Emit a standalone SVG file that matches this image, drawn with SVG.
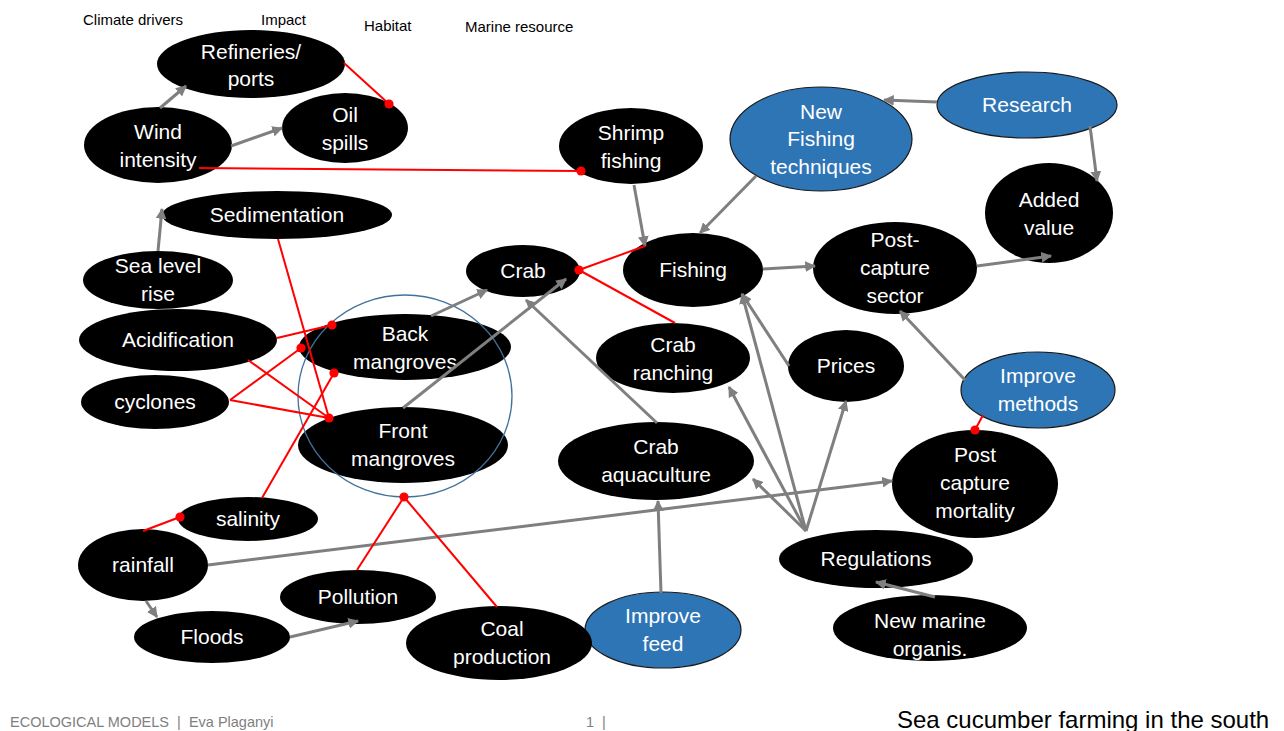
<svg xmlns="http://www.w3.org/2000/svg" width="1284" height="731" viewBox="0 0 1284 731">
<defs>
<style>
.blk{fill:#000}
.blu{fill:#2E75B6;stroke:#1a1a1a;stroke-width:1.2}
.t{font-family:"Liberation Sans",Arial,sans-serif;font-size:21px;fill:#fff;text-anchor:middle}
.hd{font-family:"Liberation Sans",Arial,sans-serif;font-size:15px;fill:#000}
.ft{font-family:"Liberation Sans",Arial,sans-serif;font-size:14.5px;fill:#7f7f7f;white-space:pre}
.g{stroke:#7f7f7f;stroke-width:3;fill:none;marker-end:url(#arr)}
.r{stroke:#ff0000;stroke-width:2;fill:none}
.rd{marker-end:url(#dot)}
</style>
<marker id="arr" viewBox="0 0 10 10" refX="9" refY="5" markerWidth="3.6" markerHeight="3.6" orient="auto">
<path d="M0,0 L10,5 L0,10 z" fill="#7f7f7f"/>
</marker>
<marker id="dot" viewBox="-5 -5 10 10" refX="0" refY="0" markerWidth="10" markerHeight="10" markerUnits="userSpaceOnUse">
<circle r="4.6" fill="#ff0000"/>
</marker>
</defs>
<rect width="1284" height="731" fill="#fff"/>
<g id="headers">
<text class="hd" x="83" y="25">Climate drivers</text>
<text class="hd" x="261" y="25">Impact</text>
<text class="hd" x="364" y="31">Habitat</text>
<text class="hd" x="465" y="32">Marine resource</text>
</g>
<g id="nodes">
<g id="refineries"><ellipse class="blk" cx="251" cy="64" rx="94" ry="34"/><text class="t" x="251"><tspan x="251" y="59">Refineries/</tspan><tspan x="251" y="86">ports</tspan></text></g>
<g id="wind"><ellipse class="blk" cx="158" cy="145" rx="74" ry="38"/><text class="t"><tspan x="158" y="139">Wind</tspan><tspan x="158" y="167">intensity</tspan></text></g>
<g id="oil"><ellipse class="blk" cx="345" cy="128" rx="63" ry="35"/><text class="t"><tspan x="345" y="122">Oil</tspan><tspan x="345" y="150">spills</tspan></text></g>
<g id="shrimp"><ellipse class="blk" cx="631" cy="146" rx="72" ry="38"/><text class="t"><tspan x="631" y="140">Shrimp</tspan><tspan x="631" y="168">fishing</tspan></text></g>
<g id="newfishing"><ellipse class="blu" cx="821" cy="139" rx="91" ry="52"/><text class="t"><tspan x="821" y="119">New</tspan><tspan x="821" y="146">Fishing</tspan><tspan x="821" y="174">techniques</tspan></text></g>
<g id="research"><ellipse class="blu" cx="1027" cy="105" rx="90" ry="33"/><text class="t" x="1027" y="112">Research</text></g>
<g id="added"><ellipse class="blk" cx="1049" cy="213" rx="64" ry="50"/><text class="t"><tspan x="1049" y="207">Added</tspan><tspan x="1049" y="235">value</tspan></text></g>
<g id="sedimentation"><ellipse class="blk" cx="277" cy="215" rx="115" ry="24"/><text class="t" x="277" y="222">Sedimentation</text></g>
<g id="sealevel"><ellipse class="blk" cx="158" cy="280" rx="75" ry="29"/><text class="t"><tspan x="158" y="273">Sea level</tspan><tspan x="158" y="301">rise</tspan></text></g>
<g id="crab"><ellipse class="blk" cx="523" cy="271" rx="57" ry="26"/><text class="t" x="523" y="278">Crab</text></g>
<g id="fishing"><ellipse class="blk" cx="693" cy="270" rx="70" ry="37"/><text class="t" x="693" y="277">Fishing</text></g>
<g id="postcapture"><ellipse class="blk" cx="895" cy="268" rx="82" ry="46"/><text class="t"><tspan x="895" y="247">Post-</tspan><tspan x="895" y="275">capture</tspan><tspan x="895" y="303">sector</tspan></text></g>
<g id="acidification"><ellipse class="blk" cx="178" cy="340" rx="99" ry="31"/><text class="t" x="178" y="347">Acidification</text></g>
<g id="backmangroves"><ellipse class="blk" cx="405" cy="347" rx="106" ry="33"/><text class="t"><tspan x="405" y="341">Back</tspan><tspan x="405" y="369">mangroves</tspan></text></g>
<g id="crabranching"><ellipse class="blk" cx="673" cy="358" rx="77" ry="35"/><text class="t"><tspan x="673" y="352">Crab</tspan><tspan x="673" y="380">ranching</tspan></text></g>
<g id="prices"><ellipse class="blk" cx="846" cy="366" rx="58" ry="36"/><text class="t" x="846" y="373">Prices</text></g>
<g id="cyclones"><ellipse class="blk" cx="155" cy="402" rx="74" ry="27"/><text class="t" x="155" y="409">cyclones</text></g>
<g id="frontmangroves"><ellipse class="blk" cx="403" cy="445" rx="105" ry="38"/><text class="t"><tspan x="403" y="438">Front</tspan><tspan x="403" y="466">mangroves</tspan></text></g>
<g id="crabaquaculture"><ellipse class="blk" cx="656" cy="461" rx="98" ry="39"/><text class="t"><tspan x="656" y="454">Crab</tspan><tspan x="656" y="482">aquaculture</tspan></text></g>
<g id="improvemethods"><ellipse class="blu" cx="1038" cy="390" rx="77" ry="38"/><text class="t"><tspan x="1038" y="383">Improve</tspan><tspan x="1038" y="411">methods</tspan></text></g>
<g id="pcmortality"><ellipse class="blk" cx="975" cy="484" rx="83" ry="54"/><text class="t"><tspan x="975" y="462">Post</tspan><tspan x="975" y="490">capture</tspan><tspan x="975" y="518">mortality</tspan></text></g>
<g id="salinity"><ellipse class="blk" cx="248" cy="519" rx="70" ry="22"/><text class="t" x="248" y="526">salinity</text></g>
<g id="rainfall"><ellipse class="blk" cx="143" cy="565" rx="65" ry="36"/><text class="t" x="143" y="572">rainfall</text></g>
<g id="regulations"><ellipse class="blk" cx="876" cy="559" rx="97" ry="29"/><text class="t" x="876" y="566">Regulations</text></g>
<g id="pollution"><ellipse class="blk" cx="358" cy="597" rx="78" ry="27"/><text class="t" x="358" y="604">Pollution</text></g>
<g id="floods"><ellipse class="blk" cx="212" cy="637" rx="78" ry="26"/><text class="t" x="212" y="644">Floods</text></g>
<g id="improvefeed"><ellipse class="blu" cx="663" cy="630" rx="78" ry="38"/><text class="t"><tspan x="663" y="623">Improve</tspan><tspan x="663" y="651">feed</tspan></text></g>
<g id="coal"><ellipse class="blk" cx="499" cy="643" rx="93" ry="37"/><text class="t"><tspan x="502" y="636">Coal</tspan><tspan x="502" y="664">production</tspan></text></g>
<g id="newmarine"><ellipse class="blk" cx="930" cy="628" rx="97" ry="33"/><text class="t"><tspan x="930" y="628">New marine</tspan><tspan x="930" y="656">organis.</tspan></text></g>
</g>
<g id="mangrove-group"><ellipse cx="405" cy="396" rx="107" ry="101" fill="none" stroke="#41719C" stroke-width="1.3"/></g>
<g id="connectors">
<line class="g" x1="160" y1="108" x2="186" y2="86"/>
<line class="g" x1="231" y1="146" x2="282" y2="128"/>
<line class="g" x1="937" y1="102" x2="884" y2="100"/>
<line class="g" x1="1090" y1="126" x2="1097" y2="181"/>
<line class="g" x1="634" y1="185" x2="645" y2="246"/>
<line class="g" x1="756" y1="176" x2="700" y2="233"/>
<line class="g" x1="763" y1="269" x2="815" y2="266"/>
<line class="g" x1="977" y1="266" x2="1051" y2="256"/>
<line class="g" x1="158" y1="251" x2="162" y2="209"/>
<line class="g" x1="431" y1="316" x2="487" y2="290"/>
<line class="g" x1="403" y1="408" x2="566" y2="279"/>
<line class="g" x1="657" y1="423" x2="526" y2="300"/>
<line class="g" x1="789" y1="366" x2="742" y2="294"/>
<line class="g" x1="806" y1="531" x2="742" y2="294"/>
<line class="g" x1="806" y1="531" x2="729" y2="387"/>
<line class="g" x1="806" y1="531" x2="753" y2="479"/>
<line class="g" x1="806" y1="531" x2="846" y2="401"/>
<line class="g" x1="965" y1="380" x2="900" y2="311"/>
<line class="g" x1="208" y1="565" x2="892" y2="481"/>
<line class="g" x1="661" y1="593" x2="658" y2="501"/>
<line class="g" x1="146" y1="601" x2="157" y2="617"/>
<line class="g" x1="290" y1="637" x2="358" y2="621"/>
<line class="g" x1="935" y1="597" x2="876" y2="582"/>
<line class="r rd" x1="344" y1="63" x2="389" y2="104"/>
<line class="r rd" x1="199" y1="168" x2="581" y2="171"/>
<line class="r rd" x1="645" y1="246" x2="579" y2="270"/>
<line class="r" x1="675" y1="323" x2="579" y2="270"/>
<line class="r rd" x1="278" y1="239" x2="329" y2="418"/>
<line class="r rd" x1="277" y1="338" x2="332" y2="325"/>
<line class="r" x1="248" y1="360" x2="329" y2="418"/>
<line class="r rd" x1="230" y1="400" x2="301" y2="348"/>
<line class="r" x1="230" y1="400" x2="329" y2="418"/>
<line class="r rd" x1="262" y1="498" x2="334" y2="373"/>
<line class="r rd" x1="143" y1="531" x2="180" y2="517"/>
<line class="r rd" x1="357" y1="570" x2="404" y2="497"/>
<line class="r" x1="497" y1="607" x2="404" y2="497"/>
<line class="r rd" x1="983" y1="415" x2="975" y2="430"/>
</g>
<g id="footer">
<text class="ft" x="10" y="727" xml:space="preserve">ECOLOGICAL MODELS  |  Eva Plaganyi</text>
<text class="ft" x="586" y="727" xml:space="preserve">1  |</text>
<text x="897" y="728" font-family="'Liberation Sans',Arial,sans-serif" font-size="24" fill="#000">Sea cucumber farming in the south</text>
</g>
</svg>
